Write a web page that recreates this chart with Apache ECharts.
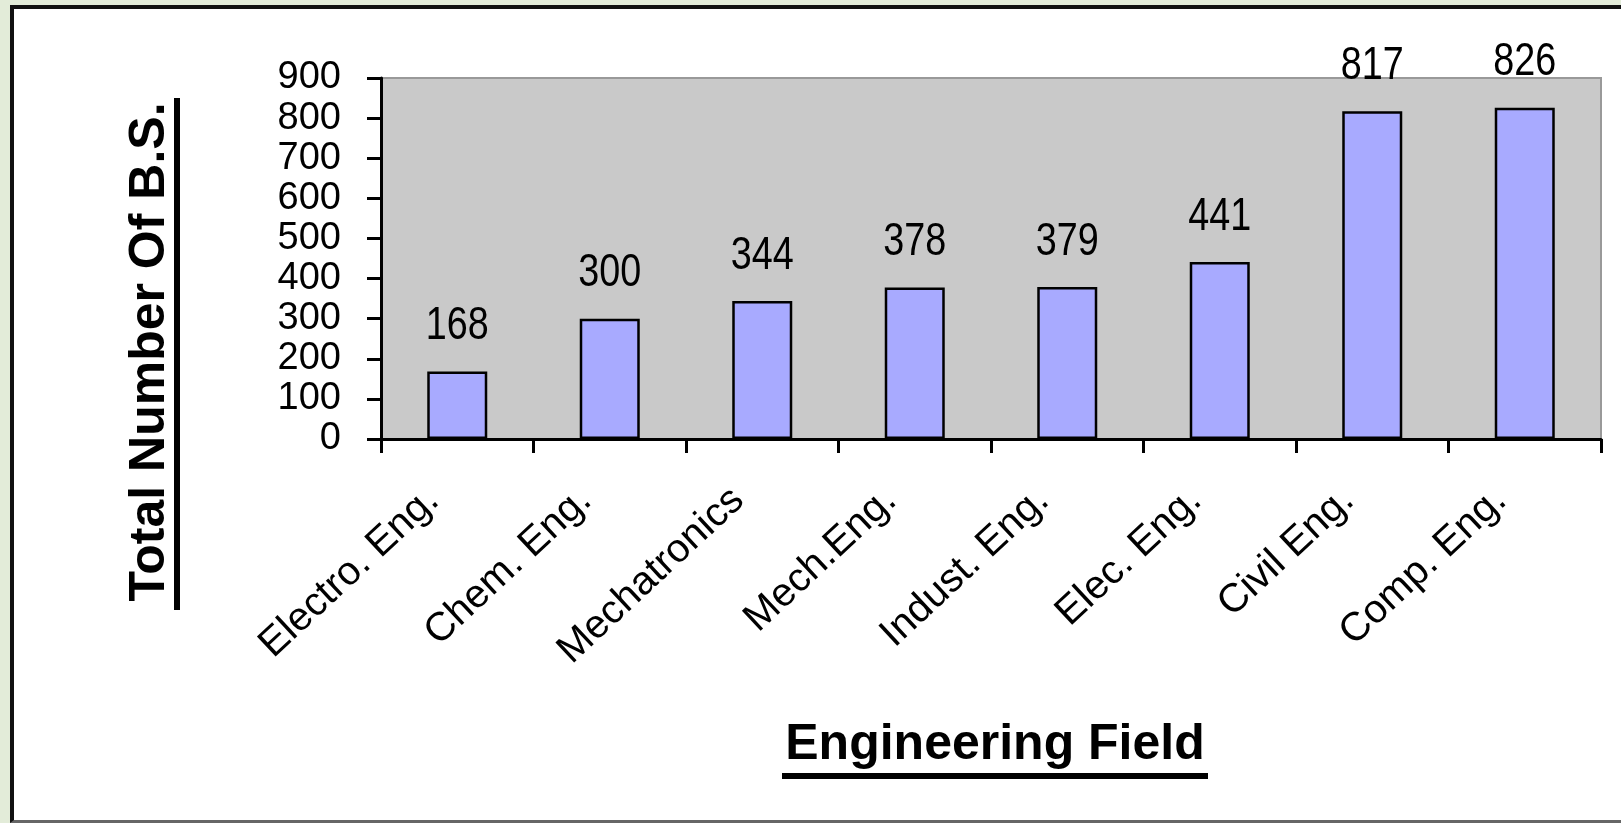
<!DOCTYPE html>
<html>
<head>
<meta charset="utf-8">
<script src="https://cdn.jsdelivr.net/npm/echarts@6/dist/echarts.min.js"></script>
<style>
  html, body { margin: 0; padding: 0; background: #e3ecd9; overflow: hidden; }
  #frame {
    position: absolute; left: 10px; top: 5px; width: 1640px; height: 818px;
    background: #ffffff; border-left: 4px solid #111; border-top: 4px solid #111;
    border-bottom: 3px solid #666; box-sizing: border-box;
  }
  #chart { position: absolute; left: 0; top: 0; width: 1621px; height: 823px; }
</style>
</head>
<body>
<div id="frame"></div>
<div id="chart"></div>
<script>
// Number of B.S. graduates per engineering field
const fields = ['Electro. Eng.', 'Chem. Eng.', 'Mechatronics', 'Mech.Eng.', 'Indust. Eng.', 'Elec. Eng.', 'Civil Eng.', 'Comp. Eng.'];
const graduates = [168, 300, 344, 378, 379, 441, 817, 826];
const yTicks = [0, 100, 200, 300, 400, 500, 600, 700, 800, 900];
const xTitle = 'Engineering Field';
const yTitle = 'Total Number Of B.S.';

const chart = echarts.init(document.getElementById('chart'), null, { renderer: 'canvas' });

const grid = { left: 381, top: 78, width: 1220, height: 361 };
const labelFont = '46px "Liberation Sans", Arial, sans-serif';

chart.setOption({
  animation: false,
  grid: {
    left: grid.left, top: grid.top, width: grid.width, height: grid.height,
    show: true, backgroundColor: '#c9c9c9', borderColor: '#999999', borderWidth: 2
  },
  xAxis: {
    type: 'category',
    data: fields,
    axisLine: { lineStyle: { color: '#000', width: 3 } },
    axisTick: { show: true, alignWithLabel: false, length: 14, lineStyle: { color: '#000', width: 3 } },
    axisLabel: {
      interval: 0, rotate: 43, margin: 33,
      padding: [0, 33, 0, 0],
      color: '#000', fontFamily: 'Liberation Sans, Arial, sans-serif', fontSize: 40
    },
    splitLine: { show: false }
  },
  yAxis: {
    type: 'value',
    min: yTicks[0], max: yTicks[yTicks.length - 1], interval: yTicks[1] - yTicks[0],
    axisLine: { show: true, lineStyle: { color: '#000', width: 3 } },
    axisTick: { show: true, length: 14, lineStyle: { color: '#000', width: 3 } },
    axisLabel: {
      margin: 40, padding: [0, 0, 10, 0],
      color: '#000', fontFamily: 'Liberation Sans, Arial, sans-serif', fontSize: 38,
      formatter: v => (yTicks.includes(v) ? String(v) : '')
    },
    splitLine: { show: false }
  },
  series: [
    {
      type: 'bar',
      data: graduates,
      barWidth: 60,
      itemStyle: { color: '#a8aaff', borderColor: '#000', borderWidth: 2.5 }
    },
    {
      // value labels above the bars, set in a condensed face
      type: 'custom',
      data: graduates.map((v, i) => [i, v]),
      z: 5,
      renderItem: (params, api) => {
        const p = api.coord([api.value(0), api.value(1)]);
        return {
          type: 'text', x: p[0], y: p[1] - 22, scaleX: 0.82,
          style: {
            text: String(api.value(1)), font: labelFont, fill: '#000',
            textAlign: 'center', textVerticalAlign: 'bottom'
          }
        };
      }
    }
  ],
  graphic: [
    {
      type: 'text', x: 995, y: 745,
      style: { text: xTitle, font: 'bold 50px "Liberation Sans", Arial, sans-serif', fill: '#000',
               textAlign: 'center', textVerticalAlign: 'middle' }
    },
    { type: 'rect', shape: { x: 782, y: 773, width: 426, height: 6 }, style: { fill: '#000' } },
    {
      type: 'text', x: 150, y: 352, rotation: Math.PI / 2,
      style: { text: yTitle, font: 'bold 50px "Liberation Sans", Arial, sans-serif', fill: '#000',
               textAlign: 'center', textVerticalAlign: 'middle' }
    },
    { type: 'rect', shape: { x: 174, y: 98, width: 6, height: 512 }, style: { fill: '#000' } }
  ]
});
</script>
</body>
</html>
